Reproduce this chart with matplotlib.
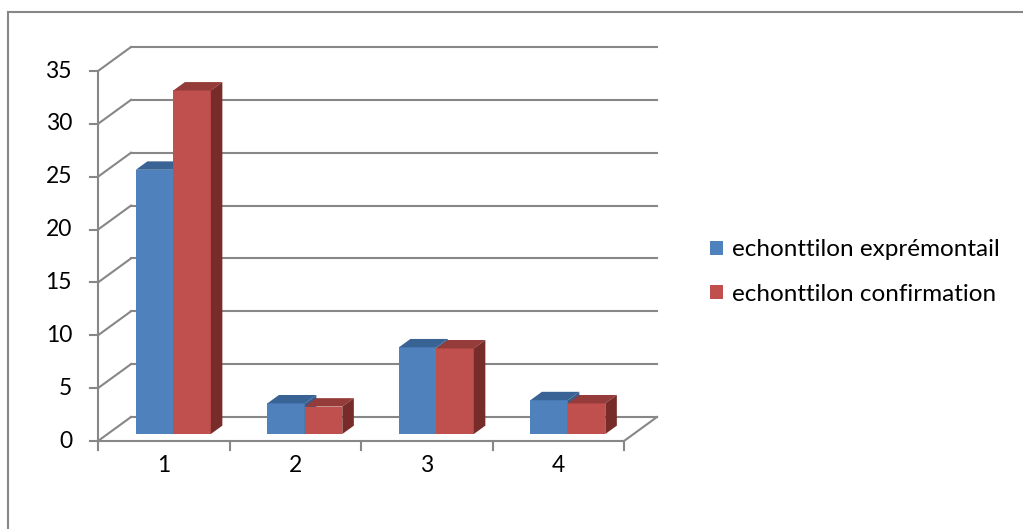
import matplotlib.pyplot as plt
from matplotlib.patches import Polygon, Rectangle, Patch
from matplotlib.lines import Line2D

# data
categories = ['1', '2', '3', '4']
experimental = [25, 2.9, 8.2, 3.2]
confirmation = [32.5, 2.6, 8.1, 2.9]
series_names = ['echonttilon exprémontail', 'echonttilon confirmation']
yticks = [0, 5, 10, 15, 20, 25, 30, 35]

plt.rcParams['font.family'] = ['Lato', 'DejaVu Sans']

# colours: front, top, side
blue = ('#4F81BD', '#3A6395', '#385D8A')
red = ('#C0504D', '#953B39', '#772C2A')
grid_col = '#878787'

# pixel scale of the original (used for axes limits only)
px_x = 131.5      # pixels per category
px_y = 10.571     # pixels per unit value
DX = 33 / px_x    # oblique depth offset in x
DY = 24 / px_y    # oblique depth offset in y
f0, f1 = 0.29, 0.64   # depth range of the bars
bar_w = 0.285

fig = plt.figure(figsize=(10.23, 5.29), dpi=100)
ax = fig.add_axes([0, 0, 1, 1])
ax.set_xlim(-98 / px_x, (1023 - 98) / px_x)
ax.set_ylim(-88 / px_y, 441 / px_y)
ax.axis('off')

# walls: back gridlines + left side slants
ymax = yticks[-1]
ncat = len(categories)
for v in yticks:
    ax.plot([DX, ncat + DX], [v + DY, v + DY], color=grid_col, lw=1.5, zorder=1)
    ax.plot([0, DX], [v, v + DY], color=grid_col, lw=1.5, zorder=1)
    ax.plot([-8 / px_x, 0], [v, v], color=grid_col, lw=1.5, zorder=1)
    ax.text(-26 / px_x, v, str(v), ha='right', va='center', fontsize=16.5, color='black')

# front axis and floor
ax.plot([0, 0], [0, ymax], color=grid_col, lw=1.5, zorder=1)
ax.plot([0, ncat], [0, 0], color=grid_col, lw=1.5, zorder=1)
ax.plot([ncat, ncat + DX], [0, DY], color=grid_col, lw=1.5, zorder=1)
for i in range(ncat + 1):
    ax.plot([i, i], [0, -9 / px_y], color=grid_col, lw=1.5, zorder=1)
for i, c in enumerate(categories):
    ax.text(i + 0.5, -25 / px_y, c, ha='center', va='center', fontsize=16.5, color='black')


def bar3d(x0, v, cols):
    xa, ya = x0 + f0 * DX, f0 * DY
    xb, yb = x0 + f1 * DX, f1 * DY
    ax.add_patch(Rectangle((xa, ya), bar_w, v, facecolor=cols[0], lw=0, zorder=3))
    ax.add_patch(Polygon([(xa, v + ya), (xa + bar_w, v + ya), (xb + bar_w, v + yb), (xb, v + yb)],
                         closed=True, facecolor=cols[1], lw=0, zorder=3))
    ax.add_patch(Polygon([(xa + bar_w, ya), (xb + bar_w, yb), (xb + bar_w, v + yb), (xa + bar_w, v + ya)],
                         closed=True, facecolor=cols[2], lw=0, zorder=3))


for i in range(ncat):
    left = i + 0.5 - bar_w
    bar3d(left, experimental[i], blue)
    bar3d(left + bar_w, confirmation[i], red)

# legend
handles = [Patch(facecolor=blue[0]), Patch(facecolor=red[0])]
fig.legend(handles, series_names, loc='center left', bbox_to_anchor=(710 / 1023, 1 - 272 / 529),
           frameon=False, fontsize=17.5, handlelength=0.55, handleheight=0.55,
           handletextpad=0.35, labelspacing=0.95, borderpad=0, borderaxespad=0)

# outer chart border (left and top visible)
fig.add_artist(Line2D([8 / 1023, 8 / 1023], [0, 1 - 12 / 529], color=grid_col, lw=1.5))
fig.add_artist(Line2D([8 / 1023, 1], [1 - 12 / 529, 1 - 12 / 529], color=grid_col, lw=1.5))

fig.savefig('out.png', dpi=100)
